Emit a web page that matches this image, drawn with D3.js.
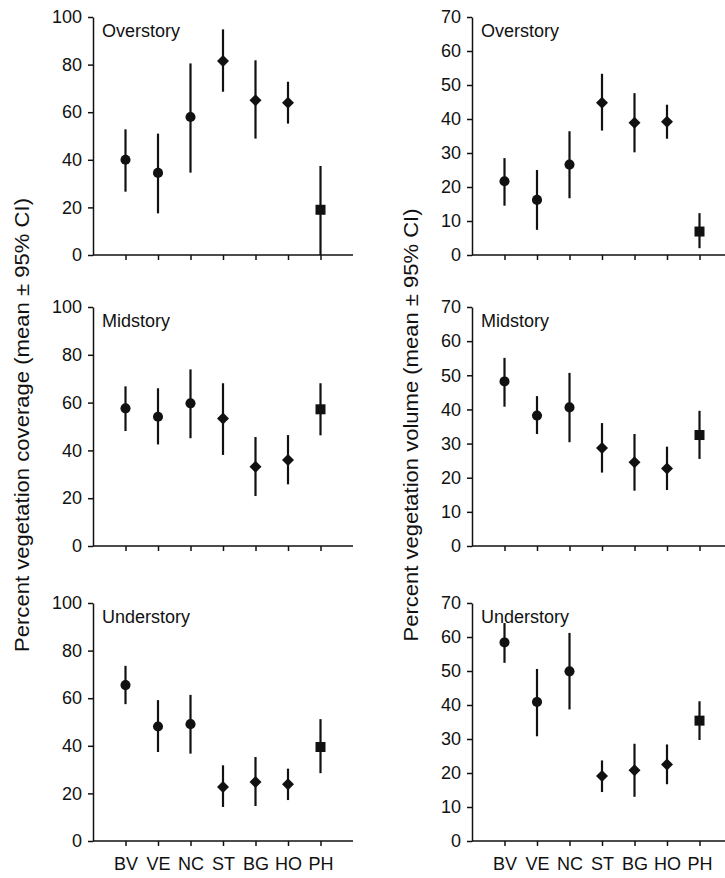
<!DOCTYPE html>
<html>
<head>
<meta charset="utf-8">
<script src="https://cdn.jsdelivr.net/npm/d3@7"></script>
<style>
  body { margin: 0; background: #fff; }
  svg { display: block; }
  text { font-family: "Liberation Sans", Arial, sans-serif; fill: #111; }
  .axis path, .axis line { stroke: #111; stroke-width: 1.5; }
  .axis text { font-size: 18px; }
</style>
</head>
<body>
<svg id="chart"></svg>
<script>
// habitat categories along the x axis
const categories = ["BV", "VE", "NC", "ST", "BG", "HO", "PH"];
const markerShapes = ["circle", "circle", "circle", "diamond", "diamond", "diamond", "square"];
const strata = ["Overstory", "Midstory", "Understory"];

const coverTicks = [0, 20, 40, 60, 80, 100];
const volumeTicks = [0, 10, 20, 30, 40, 50, 60, 70];

// percent vegetation coverage (left column)
const coverOverMean = [40, 34.5, 58, 81.5, 65, 64, 19];
const coverOverLo   = [26.6, 17.5, 34.6, 68.6, 48.9, 55.2, 0];
const coverOverHi   = [52.8, 51, 80.5, 94.8, 81.8, 72.8, 37.4];

const coverMidMean = [57.6, 54.1, 59.7, 53.3, 33.2, 36, 57.2];
const coverMidLo   = [48.1, 42.5, 45.1, 38.1, 20.9, 25.8, 46.3];
const coverMidHi   = [66.8, 66, 73.9, 68.1, 45.6, 46.4, 68.1];

const coverUnderMean = [65.5, 48.1, 49.1, 22.7, 24.8, 23.8, 39.5];
const coverUnderLo   = [57.5, 37.4, 36.7, 14.3, 14.7, 17.2, 28.5];
const coverUnderHi   = [73.6, 59.2, 61.4, 31.8, 35.3, 30.4, 51.2];

// percent vegetation volume (right column)
const volOverMean = [21.7, 16.2, 26.6, 44.8, 38.9, 39.2, 6.9];
const volOverLo   = [14.5, 7.4, 16.7, 36.6, 30.2, 34.2, 2.0];
const volOverHi   = [28.5, 25, 36.4, 53.3, 47.6, 44.2, 12.3];

const volMidMean = [48.2, 38.2, 40.6, 28.7, 24.5, 22.7, 32.5];
const volMidLo   = [40.8, 32.8, 30.4, 21.5, 16.2, 16.4, 25.5];
const volMidHi   = [55.1, 43.9, 50.7, 36, 32.8, 29.1, 39.6];

const volUnderMean = [58.4, 40.9, 49.9, 19.1, 20.8, 22.5, 35.4];
const volUnderLo   = [52.4, 30.8, 38.7, 14.4, 13, 16.7, 29.7];
const volUnderHi   = [64.1, 50.6, 61.2, 23.7, 28.6, 28.4, 41.1];

const W = 725, H = 878;
const svg = d3.select("#chart").attr("width", W).attr("height", H);

const colX = [93, 472];
const rowTop = [17, 307, 603];
const rowBottom = [255, 546, 841];
const plotW = 260;

const columns = [
  { ticks: coverTicks, max: 100, rows: [
      [coverOverMean, coverOverLo, coverOverHi],
      [coverMidMean, coverMidLo, coverMidHi],
      [coverUnderMean, coverUnderLo, coverUnderHi]] },
  { ticks: volumeTicks, max: 70, rows: [
      [volOverMean, volOverLo, volOverHi],
      [volMidMean, volMidLo, volMidHi],
      [volUnderMean, volUnderLo, volUnderHi]] }
];

const symbolFor = shape => {
  if (shape === "circle") return d3.symbol().type(d3.symbolCircle).size(80)();
  return d3.symbol().type(d3.symbolSquare).size(shape === "square" ? 100 : 72)();
};

columns.forEach((col, ci) => {
  col.rows.forEach(([mean, lo, hi], ri) => {
    const x = d3.scalePoint().domain(categories).range([colX[ci], colX[ci] + plotW]).padding(1);
    const y = d3.scaleLinear().domain([0, col.max]).range([rowBottom[ri], rowTop[ri]]);
    const g = svg.append("g");

    // x axis: line + ticks, labels only on bottom row
    const xAxis = d3.axisBottom(x).tickSize(5).tickSizeOuter(0).tickPadding(11);
    if (ri < 2) xAxis.tickFormat("");
    const xg = g.append("g").attr("class", "axis")
      .attr("transform", `translate(0,${y(0)})`).call(xAxis);
    xg.select(".domain").attr("d", `M${colX[ci]},0H${colX[ci] + plotW}`);

    g.append("g").attr("class", "axis")
      .attr("transform", `translate(${colX[ci]},0)`)
      .call(d3.axisLeft(y).tickValues(col.ticks).tickSize(5).tickSizeOuter(0).tickPadding(6));

    g.append("text")
      .attr("x", colX[ci] + 9)
      .attr("y", rowTop[ri] + 20)
      .attr("font-size", 18)
      .text(strata[ri]);

    const pts = categories.map((c, i) => ({ c, m: mean[i], lo: lo[i], hi: hi[i], shape: markerShapes[i] }));

    g.selectAll(".err").data(pts).join("line")
      .attr("x1", d => x(d.c)).attr("x2", d => x(d.c))
      .attr("y1", d => y(d.lo)).attr("y2", d => y(d.hi))
      .attr("stroke", "#111").attr("stroke-width", 2.2);

    g.selectAll(".mk").data(pts).join("path")
      .attr("d", d => symbolFor(d.shape))
      .attr("transform", d => `translate(${x(d.c)},${y(d.m)})` + (d.shape === "diamond" ? " rotate(45)" : ""))
      .attr("fill", "#111");
  });
});

svg.append("text")
  .attr("transform", "translate(29,425) rotate(-90)")
  .attr("text-anchor", "middle")
  .attr("font-size", 20)
  .attr("textLength", 454).attr("lengthAdjust", "spacingAndGlyphs")
  .text("Percent vegetation coverage (mean ± 95% CI)");

svg.append("text")
  .attr("transform", "translate(418,425) rotate(-90)")
  .attr("text-anchor", "middle")
  .attr("font-size", 20)
  .attr("textLength", 433).attr("lengthAdjust", "spacingAndGlyphs")
  .text("Percent vegetation volume (mean ± 95% CI)");
</script>
</body>
</html>
